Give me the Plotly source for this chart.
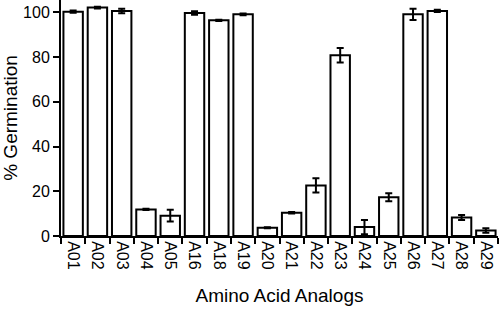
import plotly.graph_objects as go

categories = ["A01", "A02", "A03", "A04", "A05", "A16", "A18", "A19", "A20",
              "A21", "A22", "A23", "A24", "A25", "A26", "A27", "A28", "A29"]
germination = [100.3, 102.1, 100.6, 11.9, 9.1, 99.7, 96.4, 99.1, 3.7,
               10.4, 22.6, 80.8, 4.0, 17.3, 99.1, 100.6, 8.3, 2.5]
errors = [0.5, 0.4, 1.0, 0.3, 2.6, 0.8, 0.3, 0.4, 0.2,
          0.3, 3.2, 3.2, 3.2, 1.8, 2.5, 0.5, 1.1, 1.0]
y_ticks = [0, 20, 40, 60, 80, 100]

fig = go.Figure(go.Bar(
    x=categories, y=germination,
    marker=dict(color="white", line=dict(color="black", width=2)),
    error_y=dict(type="data", array=errors, visible=True,
                 color="black", thickness=2, width=3.5),
))

font = "Liberation Sans, Arial, sans-serif"
fig.update_layout(
    width=500, height=313,
    margin=dict(l=61, r=2, t=0, b=77),
    plot_bgcolor="white", paper_bgcolor="white",
    bargap=0.2, showlegend=False,
    font=dict(family=font, size=16, color="black"),
)
fig.update_xaxes(
    type="category", tickangle=90, tickson="boundaries",
    ticks="outside", ticklen=6, tickwidth=2, tickcolor="black",
    showline=True, linecolor="black", linewidth=2,
    showgrid=False, zeroline=False,
    title=dict(text="Amino Acid Analogs", standoff=20),
    tickfont=dict(size=16),
)
fig.update_yaxes(
    range=[0, 105.5], tickvals=y_ticks,
    ticks="outside", ticklen=6, tickwidth=2, tickcolor="black",
    showline=True, linecolor="black", linewidth=2,
    showgrid=False, zeroline=False,
    title=dict(text="% Germination", standoff=6),
    tickfont=dict(size=16),
)

fig.write_html("out.html", config={"displayModeBar": False},
               post_script="document.body.style.margin='0';")
